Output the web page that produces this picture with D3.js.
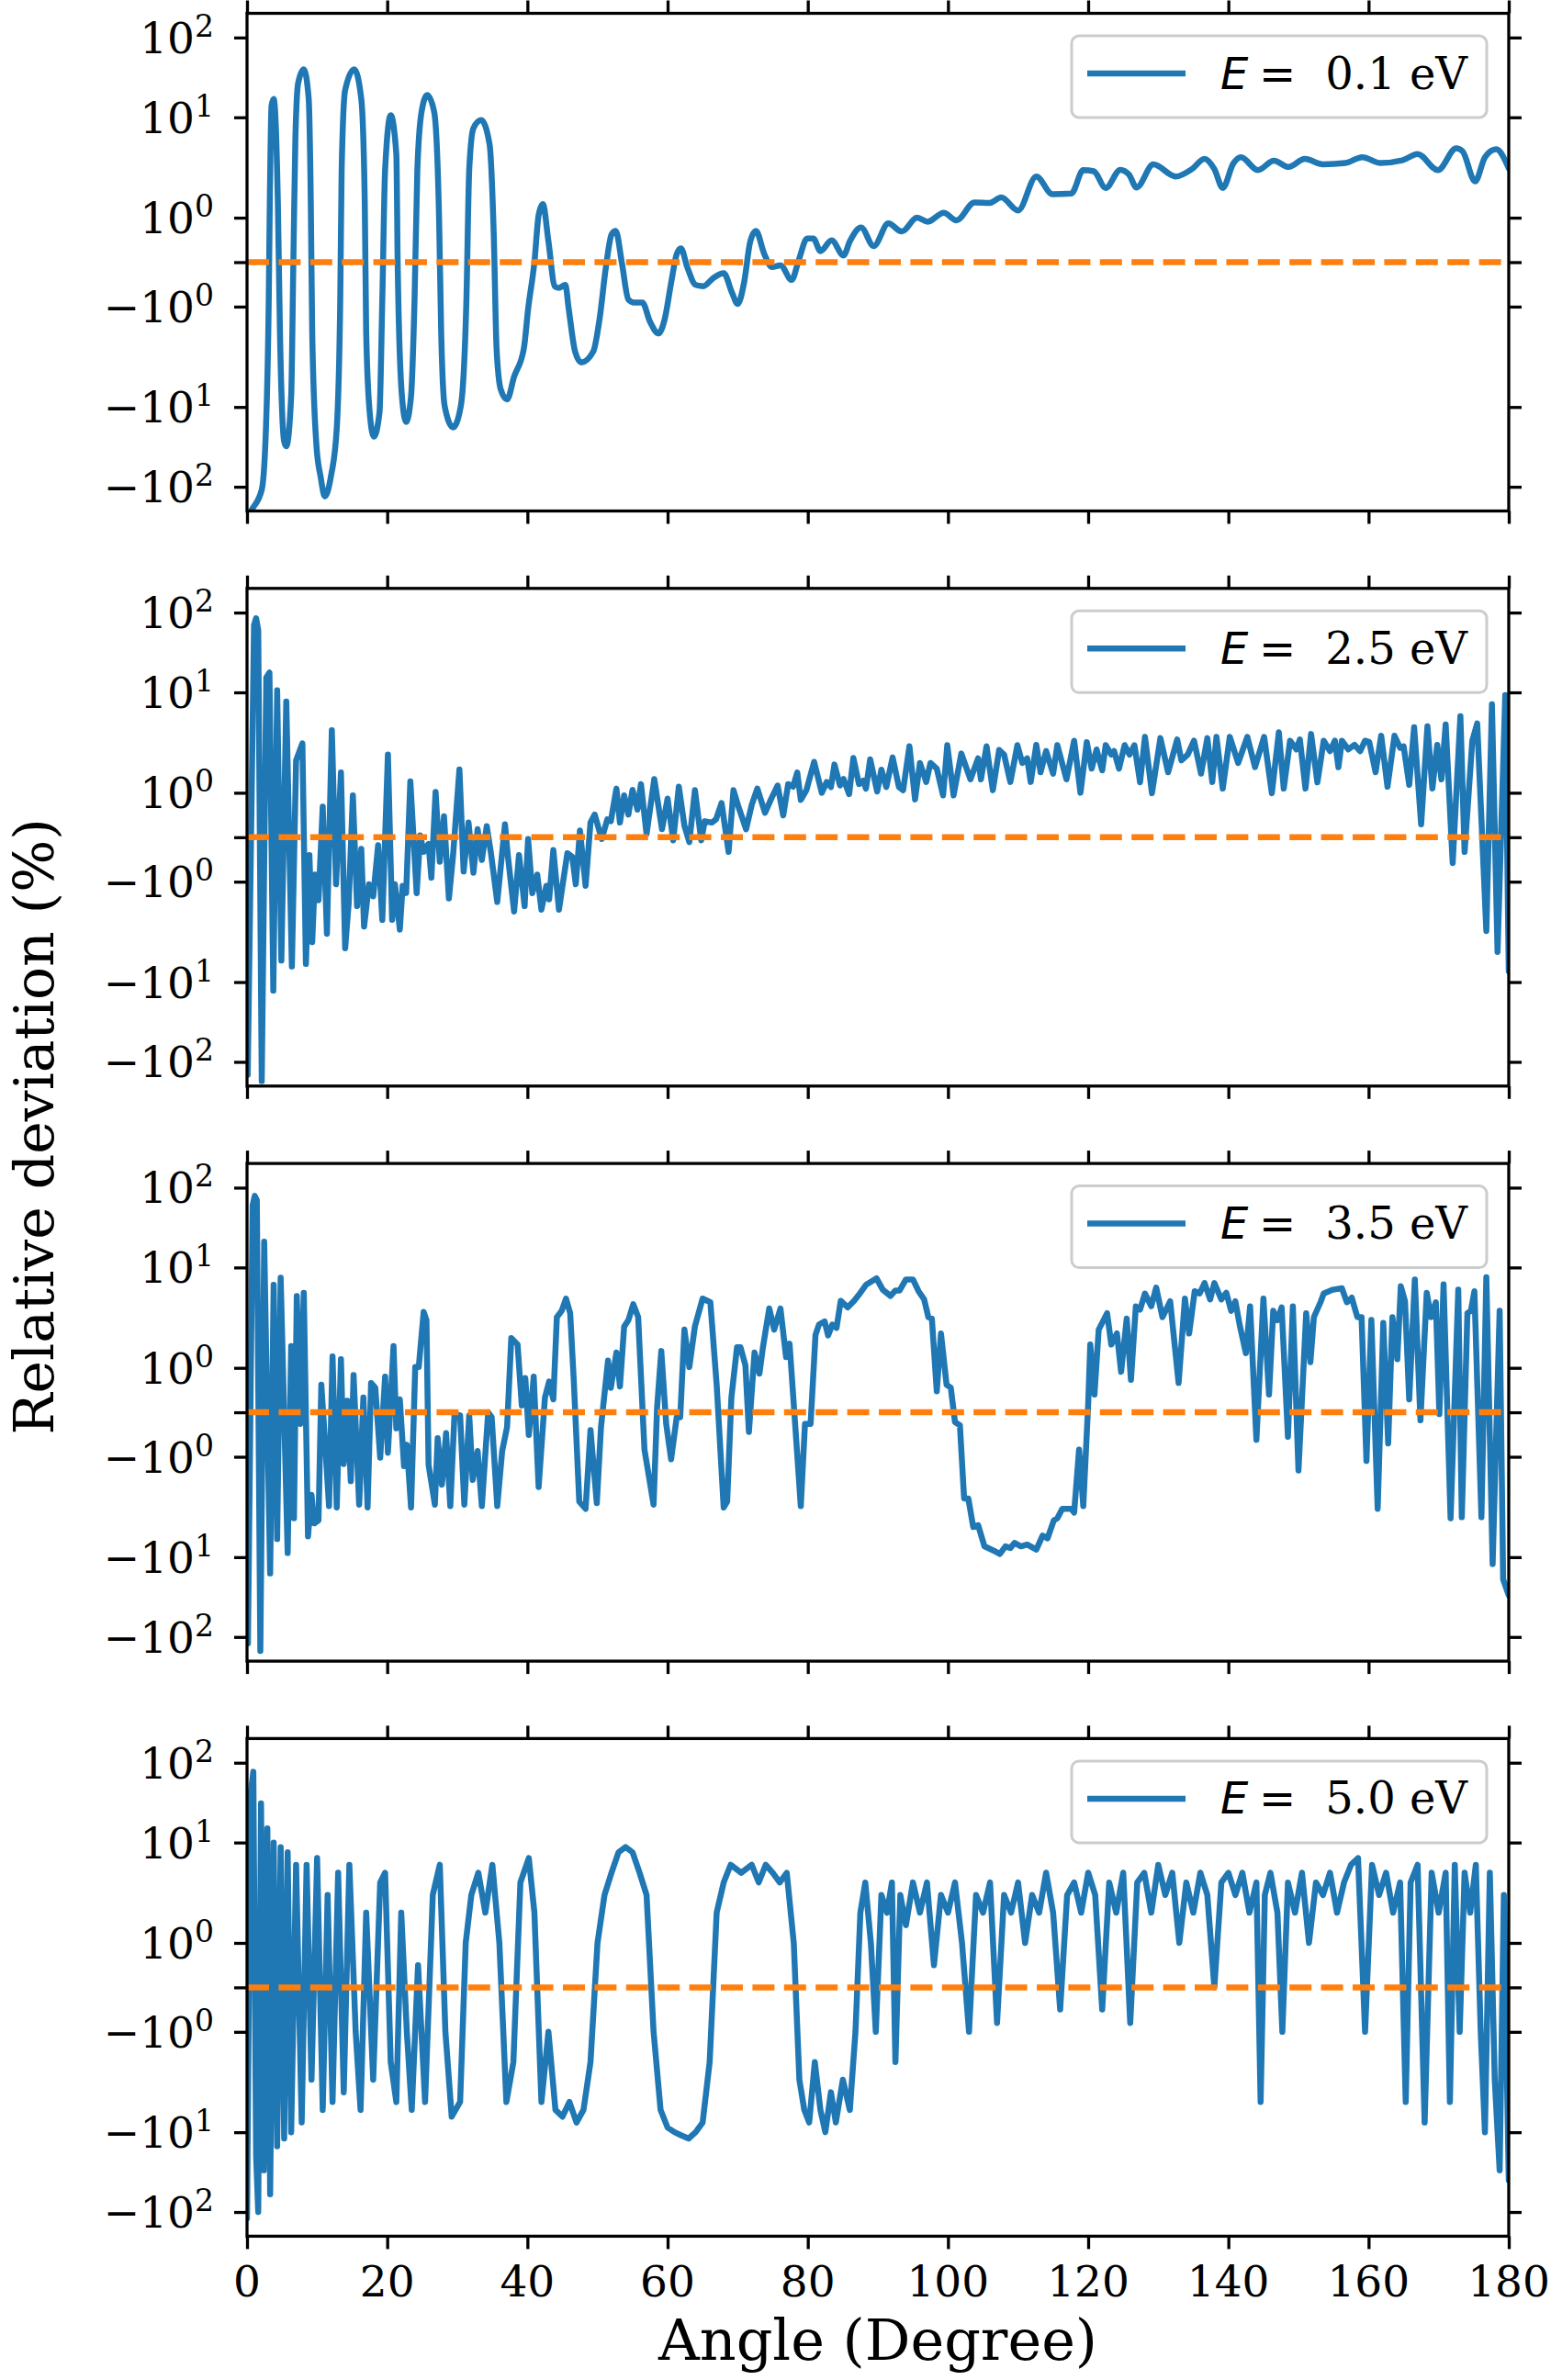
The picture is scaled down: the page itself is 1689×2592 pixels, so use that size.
<!DOCTYPE html>
<html>
<head>
<meta charset="utf-8">
<script src="https://cdn.jsdelivr.net/npm/d3@7"></script>
<style>
  body { margin: 0; background: #fff; }
  svg { display: block; }
</style>
</head>
<body>
<svg id="chart" width="1689" height="2592"></svg>
<script>
// relative deviation (%) vs scattering angle (degree), one list per energy
const dev01 = [[0,-260],[0.6,-200],[2.1,-109],[2.7,-18.6],[3.1,-0.84],[3.25,1.42],[3.5,14],[3.8,17],[4.4,1.4],[4.7,-1.8],
  [5.3,-27],[5.6,-31],[6.3,-7.8],[6.6,-0.11],[6.9,6.2],[7.3,27],[8.1,40],[8.8,17],[9.1,1.4],[9.3,-1.8],[9.9,-30],[10.5,-75],
  [11.1,-132],[11.96,-75],[12.8,-18.6],[13.3,-0.84],[13.5,3],[14,22],[15.3,40],[16.3,17],[16.8,1.4],[17,-1.8],[17.5,-11.7],
  [18.1,-23.5],[18.9,-11.7],[19.3,-0.84],[19.7,3],[20.5,10.6],[21.3,4.3],[21.5,-0.1],[22.1,-7.8],[22.7,-15.4],[23.4,-7.8],
  [23.9,-0.84],[24.3,3],[24.9,11.7],[25.7,19],[26.7,11.7],[27.4,0.98],[27.7,-1.8],[28.2,-9.8],[29.4,-18],[30.5,-9.8],
  [31.3,-0.84],[31.7,3],[32.3,7.8],[33.4,9.4],[34.6,5.4],[35.2,0.62],[35.6,-2.6],[36.2,-6.7],[37.1,-8.4],[38.1,-5],
  [39.5,-2.6],[40.1,-1.06],[41,0],[41.6,1.06],[42.2,1.37],[43,0.47],[43.9,-0.54],[44.5,-0.58],[45.4,-0.51],[45.9,-1.06],
  [46.8,-2.8],[47.7,-3.6],[49.4,-2.8],[50.3,-1.32],[51.2,-0.11],[52,0.62],[52.6,0.7],[53.5,-0.04],[54.4,-0.84],[55.2,-0.91],
  [56.4,-0.91],[57.5,-1.42],[58.7,-1.85],[59.6,-1.32],[60.5,-0.47],[61.3,0.18],[61.9,0.31],[62.8,-0.11],[64,-0.51],
  [65.1,-0.54],[66.5,-0.36],[68,-0.25],[69.2,-0.69],[70,-0.94],[70.9,-0.47],[71.8,0.47],[72.6,0.7],[73.8,0.18],[74.9,-0.11],
  [76.1,-0.07],[77.7,-0.4],[78.7,0.04],[79.9,0.53],[80.8,0.53],[81.8,0.25],[83.4,0.49],[85.1,0.15],[86,0.47],[87.6,0.78],
  [89.4,0.36],[91.5,0.87],[93.4,0.69],[95.6,1],[97.1,0.91],[99.4,1.12],[101.2,0.94],[103.8,1.42],[105.9,1.4],[107.6,1.59],
  [110,1.18],[112.6,2.57],[114.9,1.71],[117.6,1.74],[119.3,2.98],[120.8,2.9],[122.5,1.98],[124.6,3],[125.8,2.7],[126.9,2],
  [129.3,3.4],[132.5,2.57],[134.8,3.05],[136.6,3.86],[138,3.05],[139.2,1.98],[140.7,3.46],[141.8,4],[144.2,2.98],[146.5,3.7],
  [148.6,3.2],[150.9,3.85],[153.5,3.4],[156.7,3.5],[159.1,4],[161.7,3.5],[164.9,3.75],[167,4.3],[169.9,2.98],[172.5,4.9],
  [173.4,4.6],[175.2,2.3],[176.6,4],[178.2,4.8],[180,3.1]]

const dev25 = [[0.1,-145],[1,70],[1.3,85],[1.6,60],[2.1,-174],[2.75,15.4],[3.2,17.7],[3.75,-12.8],[4.3,10.6],[4.9,-6.1],
  [5.6,8.1],[6.4,-7],[7,2.1],[7.9,3.1],[8.4,-6.6],[8.9,-0.4],[9.3,-4],[9.7,-0.84],[10.2,-1.53],[10.8,0.69],[11.4,-3.3],
  [12.1,4.2],[12.7,-1.06],[13.4,1.59],[14,-4.6],[14.5,-1.65],[15.1,0.94],[15.7,-1.75],[16.3,-0.26],[16.7,-2.8],[17.4,-1.06],
  [18,-1.4],[18.7,-0.18],[19.3,-2.4],[20.1,2.4],[20.7,-2.4],[21.1,-1.06],[21.8,-3],[22.2,-1.1],[22.7,-1.3],[23.3,1.3],
  [24.2,-1.3],[24.7,0.04],[25.2,-0.33],[25.9,-0.15],[26.3,-0.91],[26.9,1.02],[27.5,-0.55],[28.1,0.47],[28.8,-1.47],
  [29.4,-0.4],[30.3,1.71],[30.9,-0.77],[31.6,0.33],[32.3,-0.8],[32.9,0.18],[33.5,-0.51],[34.2,0.25],[34.8,-0.36],
  [35.7,-1.59],[36.8,0.29],[37.2,-0.4],[38.1,-1.98],[38.8,-0.4],[39.6,-1.75],[40.1,-0.04],[40.7,-1.3],[41.4,-0.84],
  [42,-1.9],[42.7,-1.1],[43.1,-1.5],[43.7,-0.29],[44.5,-1.9],[45.7,-0.36],[46.4,-0.44],[46.9,-1.06],[47.5,0.15],
  [48.3,-1.1],[49,0.33],[49.6,0.51],[50.6,-0.04],[51.4,0.4],[51.9,0.36],[52.7,1.1],[53.2,0.33],[53.8,0.94],[54.4,0.51],
  [55,1.07],[55.7,0.62],[56.2,1.22],[57,0.07],[58.1,1.37],[59.2,0.18],[60,0.87],[60.8,-0.07],[61.6,1.15],[62.4,0.26],
  [63.1,-0.11],[63.9,1.06],[64.8,-0.07],[65.3,0.36],[66.3,0.33],[66.9,0.4],[67.7,0.77],[68.7,-0.33],[69.4,1.06],
  [70.1,0.69],[71.2,0.18],[72,0.73],[72.8,1.1],[73.9,0.55],[74.8,0.87],[75.7,1.18],[76.5,0.49],[77.2,1.22],[77.9,1.15],
  [78.5,1.59],[79,0.84],[79.8,1.06],[80.9,2.03],[82,1],[82.7,1.28],[83.3,1.14],[83.8,1.91],[84.6,1.18],[85.1,1.37],
  [85.9,0.97],[86.5,2.22],[87.3,1.22],[87.9,1.32],[88.3,1.1],[88.9,2.15],[89.9,1.03],[90.5,1.7],[91.2,1.14],[92.1,2.25],
  [93,1.14],[93.6,1.06],[94.5,2.9],[95.3,0.85],[96,1.98],[96.9,1.28],[97.5,1.98],[98.4,1.74],[99.3,0.94],[99.9,2.98],
  [100.8,0.94],[101.9,2.46],[103.2,1.36],[104.3,2.2],[104.7,1.36],[105.5,2.9],[106.4,1.06],[107.3,2.67],[108,2.4],
  [108.9,1.28],[109.9,2.98],[110.6,1.98],[111.3,2.2],[111.8,1.28],[112.6,3],[113.2,1.6],[114,2.6],[115,1.55],[115.6,2.98],
  [116.9,1.36],[118,3.3],[118.9,1],[119.8,3.2],[120.5,1.74],[121.2,2.7],[122,1.67],[122.5,2.98],[123.3,2.4],[123.7,2.6],
  [124.4,1.74],[125.2,2.98],[125.9,2.4],[126.6,2.98],[127.4,1.27],[128.1,3.6],[129.1,0.99],[130.3,3.5],[131.4,1.6],
  [132.7,3.4],[133.3,2.1],[134.2,2.4],[135.1,3.3],[136.1,1.55],[137,3.5],[137.7,1.28],[138.3,3.6],[139.2,1.1],[140.2,3.6],
  [141.4,1.98],[142.7,3.6],[143.8,1.8],[145.1,3.6],[146.2,0.99],[147.2,4],[147.9,1.1],[148.8,3.3],[149.7,2.7],[150.2,3.4],
  [151,1.1],[151.8,3.85],[152.7,1.27],[153.6,3.3],[154.5,2.6],[155.2,3.3],[155.7,1.8],[156.2,3.3],[157.1,2.7],[158,3],
  [158.8,2.6],[159.5,3.3],[160.1,3.2],[161,1.6],[161.8,3.7],[162.7,1.15],[163.7,3.7],[164.5,2.8],[165,2.9],[165.8,1.2],
  [166.5,4.5],[167.5,0.29],[168.4,4.6],[169.1,1.1],[169.8,3],[170.4,1.36],[171,4.8],[172,-0.58],[173.1,5.8],[173.7,-0.33],
  [174.8,3.3],[175.5,4.9],[176.8,-3.1],[177.6,7.6],[178.4,-5],[179.5,9.4],[180,-7.8]]

const dev35 = [[0.13,-120],[0.8,60],[1.1,79],[1.4,70],[1.9,-150],[2.45,21],[3.3,-16],[3.8,6.7],[4.3,-6.6],[4.8,7.9],
  [5.8,-9.1],[6.3,1.65],[6.7,-4.1],[7.1,5.2],[7.6,-0.26],[8.1,5.6],[8.7,-6.2],[9.2,-2.4],[9.6,-4.6],[10.2,-4.3],
  [10.6,0.62],[11.2,-0.84],[11.7,-3.1],[12.2,1.3],[12.8,-3.2],[13.4,1.22],[13.8,-1.18],[14.3,0.26],[14.8,-1.75],
  [15.2,0.84],[16,-3],[16.6,0.33],[17.2,-3.2],[17.7,0.66],[18.3,0.55],[19,-1.02],[19.7,0.8],[20.1,-0.91],[20.9,1.65],
  [21.3,-0.36],[21.8,0.29],[22.4,-1.24],[22.8,-0.73],[23.4,-3.2],[24,1.02],[24.5,1.02],[25.2,3.6],[25.6,2.98],[25.9,-1.2],
  [26.8,-3],[27.2,-0.58],[27.8,-1.9],[28.4,-0.47],[29,-3.1],[29.6,-0.04],[30.4,-0.07],[31,-3],[31.7,-0.07],[32.2,-1.7],
  [32.9,-0.87],[33.5,-3.1],[34.4,0],[34.9,-0.11],[35.7,-3.1],[36.4,-0.87],[37.1,-0.33],[37.7,1.98],[38.6,1.71],[39.2,0.15],
  [39.7,0.77],[40.2,-0.51],[40.9,0.8],[41.6,-2],[42.5,0.33],[43.1,0.69],[43.7,0.29],[44.2,3.2],[44.9,3.7],[45.5,4.9],
  [46.1,3.5],[46.6,0.77],[47.4,-2.8],[48.3,-3.3],[49,-0.4],[49.9,-2.9],[50.5,-0.33],[51.5,1.18],[51.9,0.55],[52.7,1.42],
  [53.2,0.58],[53.8,2.57],[54.4,2.98],[55.1,4.3],[55.8,3.2],[56.7,-0.84],[58,-3],[58.5,0.11],[59.1,1.47],[59.8,-0.26],
  [60.5,-1.06],[61.3,-0.11],[61.8,-0.11],[62.4,2.4],[63.1,1.02],[63.9,2.6],[65,4.9],[66.1,4.5],[67,0.62],[68,-3.2],
  [68.5,-2.8],[69.1,0.33],[69.9,1.6],[70.4,1.6],[71.1,1.06],[71.6,-0.44],[72.4,1.42],[73.1,0.87],[73.6,1.6],[74.5,3.9],
  [75.2,2.4],[76.1,3.9],[76.9,1.28],[77.4,1.74],[78,0.18],[79,-3.1],[79.6,-0.26],[80.4,-0.26],[81.1,2.13],[81.6,2.7],
  [82.4,2.9],[82.9,2.1],[83.5,2.7],[84.1,2.5],[84.7,4.65],[85.7,4],[86.6,4.65],[87.5,5.6],[88.3,6.7],[89.8,7.8],[90.7,6],
  [91.8,5.2],[92.5,5.9],[93.1,5.9],[94,7.6],[95,7.6],[95.8,5.8],[96.6,4.8],[97.2,3.2],[97.7,3.1],[98.4,0.47],[99,2.2],
  [99.8,0.62],[100.4,0.55],[101,-0.22],[101.7,-0.29],[102.3,-2.6],[102.9,-2.6],[103.6,-5],[104.3,-4.8],[105.2,-7.8],
  [106.5,-8.6],[107.4,-9.3],[108.2,-7.8],[108.9,-8.1],[109.5,-7.2],[110.4,-7.8],[111.3,-7.5],[112.6,-8.4],[113.5,-6.1],
  [114.2,-6.5],[115.1,-4.3],[115.6,-4.1],[116.3,-3.3],[117.6,-3.3],[118,-3.6],[118.7,-0.84],[119.3,-3.1],[120,0.18],
  [120.3,1.71],[120.9,0.4],[121.5,2.4],[122.7,3.5],[123.3,1.71],[124.1,2.2],[124.7,0.91],[125.5,3.1],[126.1,0.73],
  [126.8,4.1],[127.4,3.8],[128.1,5.5],[129,4.1],[129.7,6.3],[130.6,3.2],[131.7,4.6],[132.9,0.66],[133.8,4.9],[134.4,2.2],
  [135.2,5.8],[135.9,5.5],[136.6,7],[137.4,4.8],[138,7],[139,4.8],[139.7,5.6],[140.4,3.7],[141,4.6],[141.6,2.7],[142.5,1.4],
  [143.1,4.1],[144,-0.62],[145,4.9],[145.8,0.4],[146.4,3.7],[147,2.98],[147.6,4],[148.5,-0.55],[149.2,4.1],[150,-1.37],
  [151.1,3.5],[151.7,1.14],[152.2,3.2],[153.2,4.6],[153.6,5.5],[154.9,6],[156.2,6.2],[156.9,4.5],[157.6,5],[158.4,3.2],
  [159,3.2],[159.7,-1.1],[160.4,3],[161.3,-3.3],[162.1,2.8],[162.8,-0.7],[163.4,3.2],[164.1,1.22],[164.6,6.5],[165.2,4.6],
  [165.8,0.29],[166.6,7.6],[167.4,-0.18],[168.3,5.6],[168.9,3.2],[169.6,4.5],[170.1,-0.04],[170.7,6.8],[171.7,-4.1],
  [172.8,6],[173.3,-4],[174.1,3.5],[174.6,3.7],[175.1,5.8],[176.1,-4],[176.8,8],[177.7,-12.2],[178.7,3.7],[179.2,-19],
  [180,-30]]

const dev50 = [[0,-120],[0.5,40],[0.9,77],[1.3,-20],[1.6,-100],[2,31],[2.4,-30],[2.9,15],[3.3,-60],[3.8,10],[4.3,-15],
  [4.8,9],[5.3,-12],[5.8,8],[6.3,-10],[7,6],[7.8,-8],[8.5,6],[9.2,-3],[10,7],[10.8,-6],[11.5,3],[12.2,-5],[13,5],[13.8,-4],
  [14.6,6],[15.5,-1],[16.2,-6],[17,2],[18,-3],[19,4],[19.7,5],[20.5,-2],[21.3,-5],[22,2],[22.8,-1],[23.5,-6],[24.4,0.5],
  [25.4,-5],[26.5,3],[27.5,6],[28.3,-1],[29.2,-7],[30.4,-5],[31.2,1],[32,3],[33,5],[34,2],[35,6],[36,1],[37,-5],[38,-2],
  [39,4],[40.2,7],[41,2],[42,-5],[43,-1],[44,-6],[45,-7],[46,-5],[47,-8],[48,-6],[49,-2],[50,1],[51,3],[52,5],[53,8],[54,9],
  [55,8],[56,5],[57,3],[58,-1],[59,-6],[60,-9],[61,-10],[62,-11],[63,-12],[64,-10],[65,-8],[66,-2],[67,2],[68,4],[69,6],
  [70.5,5],[72,6],[73,4],[74,6],[75,5],[76,4],[77,5],[78,1],[78.8,-3],[79.5,-6],[80.2,-8],[81,-2],[81.8,-6],[82.5,-10],
  [83.3,-4],[84,-8],[85,-3],[86,-6],[86.8,-1],[87.5,2],[88.2,4],[89,1],[89.7,-1],[90.5,3],[91.3,2],[92,4],[92.5,-2],[93.2,3],
  [94,1.5],[95,4],[96,2],[97,4],[98,0.5],[99,3],[100,2],[101,4],[102,1],[103,-1],[104,3],[105,2],[106,4],[107,-0.8],[108,3],
  [109,2],[110,4],[111,1],[112,3],[113,2],[114,5],[115,2],[116,-0.5],[117,3],[118,4],[119,2],[120,5],[121,3],[122,-0.5],
  [123,4],[124,2],[125,5],[126,-0.8],[127,4],[128,5],[129,2],[130,6],[131,3],[132,5],[133,1],[134,4],[135,2],[136,5],[137,3],
  [138,0],[139,4],[140,5],[141,3],[142,5],[143,2],[144,4],[144.6,-5],[145.2,3],[146,5],[147,2],[147.7,-1],[148.5,4],
  [149.5,2],[150.5,5],[151.5,1],[152.5,4],[153.5,3],[154.5,5],[155.5,2],[156.5,4],[157.5,6],[158.5,7],[159.5,-1],[160.5,6],
  [161.5,3],[162.5,5],[163.5,2],[164.5,4],[165.3,-5],[166,4],[167,6],[168,-8],[169,5],[170,2],[171,5],[171.6,-5],[172.3,6],
  [173,-1],[173.7,5],[174.5,2],[175.3,6],[176,-1],[176.6,-10],[177.3,5],[178,-3],[178.7,-30],[179.3,3],[180,-40]]

const energies = ["0.1", "2.5", "3.5", "5.0"]
const series = [dev01, dev25, dev35, dev50]
const xTicks = [0, 20, 40, 60, 80, 100, 120, 140, 160, 180]
const yTicks = [100, 10, 1, 0, -1, -10, -100]
const yTickLabels = ["10|2", "10|1", "10|0", "", "\u221210|0", "\u221210|1", "\u221210|2"]

const svg = d3.select("#chart")
const left = 269, right = 1643
const panelH = 542, panelStep = 626.3, firstTop = 14.5
const tMax = 2.479

// axis transform: linear below 1, then compressed decades (as in the figure)
const logPart = d3.scaleLinear().domain([0, 1, 2]).range([0.443, 1.443, 2.238])
function tf(v) {
  const a = Math.abs(v)
  const t = a <= 1 ? 0.443 * a : logPart(Math.log10(a))
  return v < 0 ? -t : t
}

const x = d3.scaleLinear().domain([0, 180]).range([left, right])
const serif = "DejaVu Serif"

series.forEach((data, i) => {
  const top = firstTop + i * panelStep
  const bottom = top + panelH
  const yT = d3.scaleLinear().domain([-tMax, tMax]).range([bottom, top])
  const y = (v) => yT(tf(v))
  const g = svg.append("g")

  g.append("clipPath").attr("id", "clip" + i)
    .append("rect").attr("x", left).attr("y", top).attr("width", right - left).attr("height", panelH)

  const line = d3.line().x((d) => x(d[0])).y((d) => y(d[1]))
    .curve(i === 0 ? d3.curveMonotoneX : d3.curveLinear)

  const plot = g.append("g").attr("clip-path", `url(#clip${i})`)
  plot.append("path").datum(data).attr("d", line)
    .attr("fill", "none").attr("stroke", "#1f77b4").attr("stroke-width", 6.5)
    .attr("stroke-linejoin", "round").attr("stroke-linecap", "round")
  plot.append("path").datum([[0, 0], [180, 0]]).attr("d", d3.line().x((d) => x(d[0])).y((d) => y(d[1])))
    .attr("stroke", "#ff7f0e").attr("stroke-width", 6.5).attr("stroke-dasharray", "24,10.4")

  // axes (ticks only, frame drawn separately)
  const tVals = yTicks.map(tf)
  const styleAxis = (sel) => {
    sel.select(".domain").remove()
    sel.selectAll(".tick line").attr("stroke", "#000").attr("stroke-width", 3.3)
    sel.selectAll(".tick text").remove()
  }
  g.append("g").attr("transform", `translate(${left},0)`)
    .call(d3.axisLeft(yT).tickValues(tVals).tickSize(14).tickFormat(""))
    .call(styleAxis)
  g.append("g").attr("transform", `translate(${right},0)`)
    .call(d3.axisRight(yT).tickValues(tVals).tickSize(14).tickFormat(""))
    .call(styleAxis)
  g.append("g").attr("transform", `translate(0,${top})`)
    .call(d3.axisTop(x).tickValues(xTicks).tickSize(14).tickFormat(""))
    .call(styleAxis)
  g.append("g").attr("transform", `translate(0,${bottom})`)
    .call(d3.axisBottom(x).tickValues(xTicks).tickSize(14).tickFormat(""))
    .call(styleAxis)

  g.append("rect").attr("x", left).attr("y", top).attr("width", right - left).attr("height", panelH)
    .attr("fill", "none").attr("stroke", "#000").attr("stroke-width", 3.3)

  // y tick labels with superscripts
  yTicks.forEach((v, k) => {
    const lab = yTickLabels[k]
    if (!lab) return
    const [base, ex] = lab.split("|")
    const t = g.append("text").attr("x", 233).attr("y", y(v) + 17)
      .attr("text-anchor", "end").attr("font-family", serif).attr("font-size", 47)
    t.append("tspan").text(base)
    t.append("tspan").attr("dy", -18).attr("font-size", 33).text(ex)
  })

  // legend
  const lg = g.append("g")
  lg.append("rect").attr("x", 1167).attr("y", top + 24.5).attr("width", 452).attr("height", 89).attr("rx", 8)
    .attr("fill", "#fff").attr("fill-opacity", 0.8).attr("stroke", "#cccccc").attr("stroke-width", 3)
  lg.append("line").attr("x1", 1184).attr("x2", 1291).attr("y1", top + 65.5).attr("y2", top + 65.5)
    .attr("stroke", "#1f77b4").attr("stroke-width", 6.5)
  lg.append("text").attr("x", 1329).attr("y", top + 82).attr("font-family", "DejaVu Sans")
    .attr("font-style", "italic").attr("font-size", 48).text("E")
  lg.append("text").attr("x", 1371).attr("y", top + 82).attr("font-family", "DejaVu Sans")
    .attr("font-size", 48).text("=")
  lg.append("text").attr("x", 1598).attr("y", top + 82).attr("text-anchor", "end").attr("font-family", serif)
    .attr("font-size", 48).text(`${energies[i]} eV`)

  if (i === series.length - 1) {
    xTicks.forEach((d) => {
      g.append("text").attr("x", x(d)).attr("y", bottom + 66).attr("text-anchor", "middle")
        .attr("font-family", serif).attr("font-size", 47).text(d)
    })
  }
})

svg.append("text").attr("x", (left + right) / 2).attr("y", 2570).attr("text-anchor", "middle")
  .attr("font-family", serif).attr("font-size", 62).text("Angle (Degree)")
svg.append("text").attr("transform", "translate(58,1227) rotate(-90)").attr("text-anchor", "middle")
  .attr("font-family", serif).attr("font-size", 60).text("Relative deviation (%)")
</script>
</body>
</html>
